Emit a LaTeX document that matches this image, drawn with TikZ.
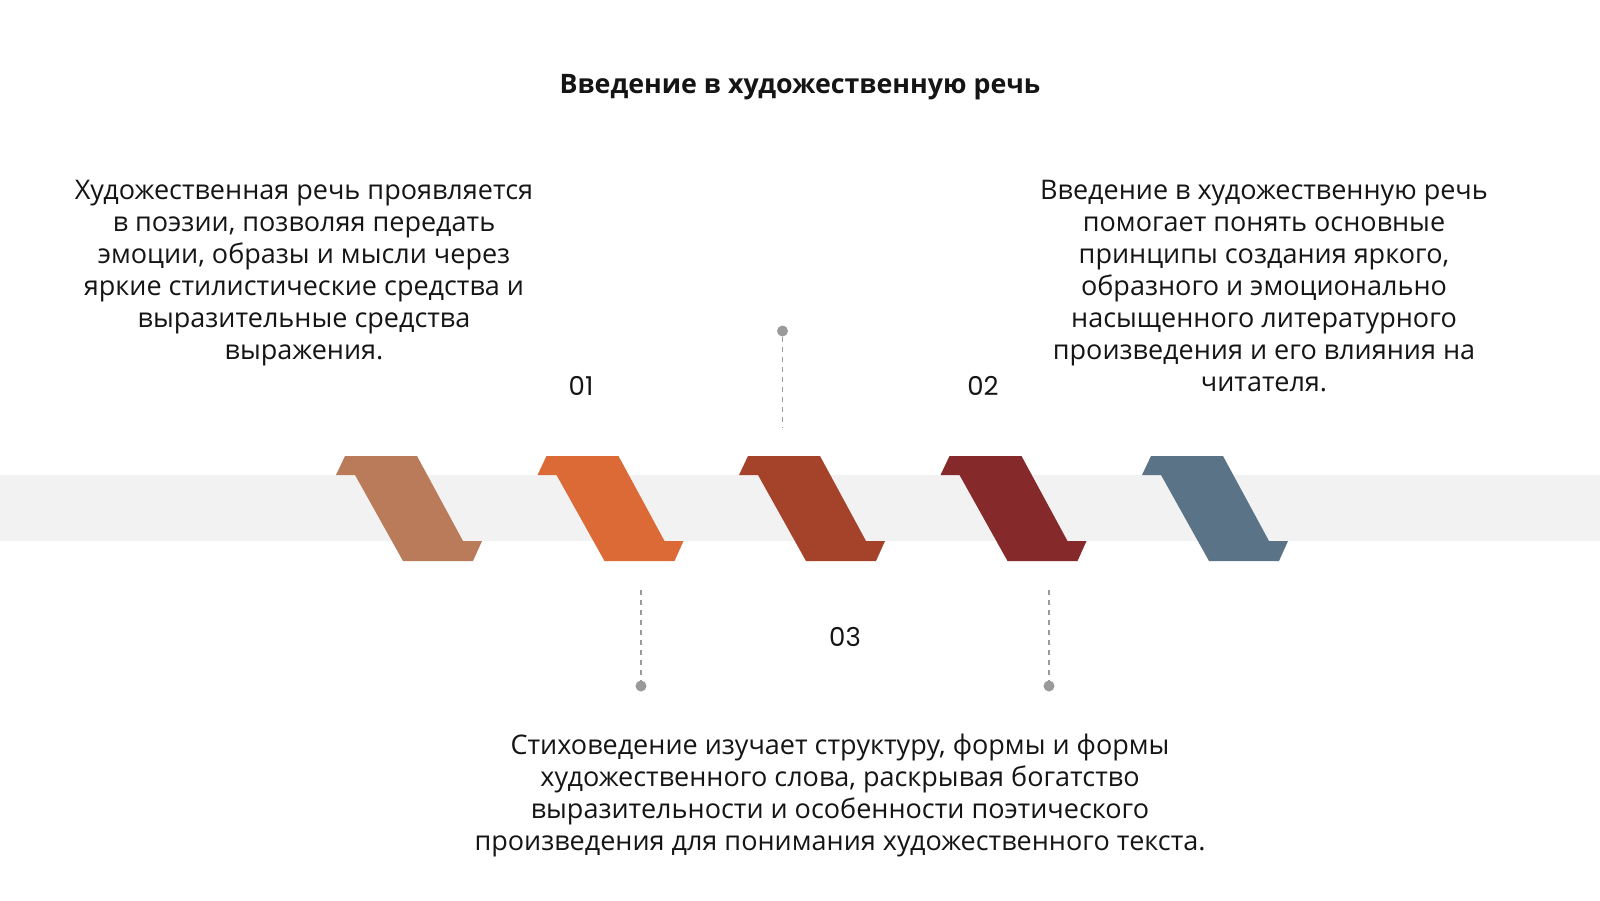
\documentclass[tikz,border=0pt]{standalone}
\usepackage{fontspec}
\setmainfont{Open Sans}
\newfontfamily\numfont{Poppins}
\usepackage{xcolor}
\usepackage{tikz}
\usetikzlibrary{positioning}

\definecolor{bandgray}{HTML}{F2F2F2}
\definecolor{dotgray}{HTML}{9A9A9A}
\definecolor{textdark}{HTML}{151515}
\definecolor{tanbrown}{HTML}{B97B5A}
\definecolor{orangeR}{HTML}{DC6A36}
\definecolor{rustR}{HTML}{A4422A}
\definecolor{wineR}{HTML}{85292A}
\definecolor{slateR}{HTML}{5A7386}

\begin{document}
\begin{tikzpicture}[
    x=0.5pt, y=-0.5pt,
    ribbon/.pic={\fill (0,0) -- (9,-19) -- (81,-19) -- (127,66) -- (146,66) -- (137,86) -- (67,86) -- (19,0) -- cycle;},
    bodytext/.style={font=\fontsize{13.5}{16}\selectfont, align=center, inner sep=0pt, text=textdark},
    title/.style={font=\bfseries\fontsize{13.4}{16}\selectfont, inner sep=0pt, text=textdark},
    num/.style={font=\numfont\fontsize{13}{15}\selectfont, inner sep=0pt, text=textdark},
    dot/.style={circle, fill=dotgray, minimum size=5.5pt, inner sep=0pt},
    leader/.style={draw=dotgray, line width=0.7pt, dash pattern=on 2.5pt off 2.5pt}
]
\fill[white] (0,0) rectangle (1600,900);
\useasboundingbox (0,0) rectangle (1600,900);

% Title
\node[title] (title) at (800,87) {Введение в художественную речь};

% Grey band with the five ribbons
\fill[bandgray] (0,475) rectangle (1600,541);
\pic[fill=tanbrown] (r1) at (336,475) {ribbon};
\pic[fill=orangeR] (r2) at (537.5,475) {ribbon};
\pic[fill=rustR] (r3) at (739,475) {ribbon};
\pic[fill=wineR] (r4) at (940.5,475) {ribbon};
\pic[fill=slateR] (r5) at (1142,475) {ribbon};

% Numbers
\node[num] (n1) at (581,386) {01};
\node[num] (n2) at (983,386) {02};
\node[num] (n3) at (845,637) {03};

% Leaders
\node[dot] (dtop) at (782.5,331) {};
\coordinate (etop) at (782.5,428);
\node[dot] (dleft) at (641,686) {};
\coordinate (eleft) at (641,590);
\node[dot] (dright) at (1049,686) {};
\coordinate (eright) at (1049,590);
\draw[leader] (dtop) -- (etop);
\draw[leader] (eleft) -- (dleft);
\draw[leader] (eright) -- (dright);

% Texts
\node[bodytext, anchor=north] (t1) at (304,180) {Художественная речь проявляется\\в поэзии, позволяя передать\\эмоции, образы и мысли через\\яркие стилистические средства и\\выразительные средства\\выражения.};
\node[bodytext, anchor=north] (t2) at (1264,180) {Введение в художественную речь\\помогает понять основные\\принципы создания яркого,\\образного и эмоционально\\насыщенного литературного\\произведения и его влияния на\\читателя.};
\node[bodytext, anchor=north] (t3) at (840,734) {Стиховедение изучает структуру, формы и формы\\художественного слова, раскрывая богатство\\выразительности и особенности поэтического\\произведения для понимания художественного текста.};
\end{tikzpicture}
\end{document}
